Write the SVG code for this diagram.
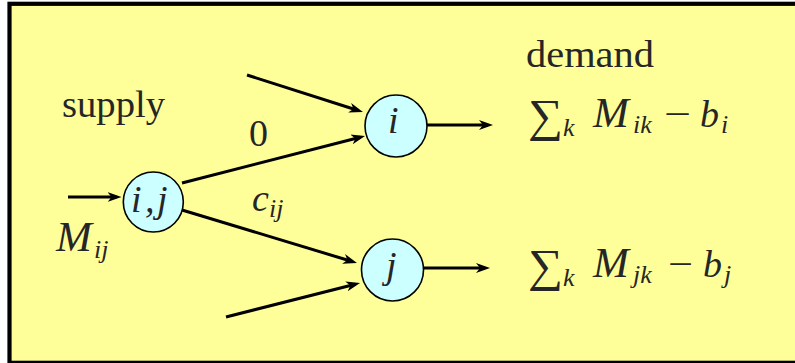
<svg xmlns="http://www.w3.org/2000/svg" width="795" height="363" viewBox="0 0 795 363">
<defs>
<style>
.t{font-family:"Liberation Serif","DejaVu Serif",serif;fill:#262626;font-size:38px}
.it{font-style:italic}
.m{font-size:43px;font-style:italic}
.sub{font-size:26px;font-style:italic}
.sum{font-size:46px}
.node{fill:#ccffff;stroke:#000;stroke-width:1.6}
.edge{stroke:#000;stroke-width:3;fill:none;marker-end:url(#ah)}
</style>
<marker id="ah" viewBox="0 0 14 10" refX="9" refY="5" markerWidth="14" markerHeight="10" markerUnits="userSpaceOnUse" orient="auto">
<path d="M0,0 L14,5 L0,10 L4,5 z" fill="#000"/>
</marker>
</defs>
<rect x="0" y="0" width="795" height="363" fill="#ffffff"/>
<rect x="9.5" y="3.8" width="792" height="359" fill="#ffff99" stroke="#000" stroke-width="4.2"/>
<g id="connectors">
<line class="edge" x1="68" y1="197" x2="116.5" y2="197"/>
<line class="edge" x1="182" y1="183" x2="360.2" y2="137.2"/>
<line class="edge" x1="247" y1="75" x2="358.2" y2="110.5"/>
<line class="edge" x1="427" y1="125" x2="488" y2="125"/>
<line class="edge" x1="182" y1="210" x2="352.2" y2="261.5"/>
<line class="edge" x1="226" y1="317" x2="355.2" y2="284.2"/>
<line class="edge" x1="423" y1="268" x2="485" y2="268"/>
</g>
<g id="node-ij">
<circle class="node" cx="153.3" cy="202" r="30"/>
<text class="t it" y="212"><tspan x="131">i</tspan><tspan x="145">,</tspan><tspan x="157">j</tspan></text>
</g>
<g id="node-i">
<circle class="node" cx="396" cy="126" r="31"/>
<text class="t it" x="388" y="133">i</text>
</g>
<g id="node-j">
<circle class="node" cx="392.5" cy="270" r="31"/>
<text class="t it" x="386" y="278">j</text>
</g>
<g id="labels">
<text class="t" x="62" y="117" textLength="103" lengthAdjust="spacingAndGlyphs">supply</text>
<text class="t" x="526" y="67" textLength="128" lengthAdjust="spacingAndGlyphs">demand</text>
<text class="t" x="249" y="146">0</text>
<text class="t it" x="252" y="211">c</text><text class="t sub" x="269" y="217">ij</text>
<text class="t m" x="56" y="251">M</text><text class="t sub" x="94" y="258">ij</text>
<text class="t sum" x="528" y="131" textLength="35" lengthAdjust="spacingAndGlyphs">∑</text><text class="t sub" x="563" y="136">k</text>
<text class="t m" x="593" y="127">M</text><text class="t sub" x="633" y="133">ik</text>
<text class="t" x="664" y="127" textLength="27" lengthAdjust="spacingAndGlyphs">−</text>
<text class="t it" x="700" y="127">b</text><text class="t sub" x="721" y="133">i</text>
<text class="t sum" x="528" y="281" textLength="35" lengthAdjust="spacingAndGlyphs">∑</text><text class="t sub" x="563" y="286">k</text>
<text class="t m" x="593" y="277">M</text><text class="t sub" x="633" y="283">jk</text>
<text class="t" x="668" y="277" textLength="25" lengthAdjust="spacingAndGlyphs">−</text>
<text class="t it" x="703" y="277">b</text><text class="t sub" x="724" y="283">j</text>
</g>
</svg>
